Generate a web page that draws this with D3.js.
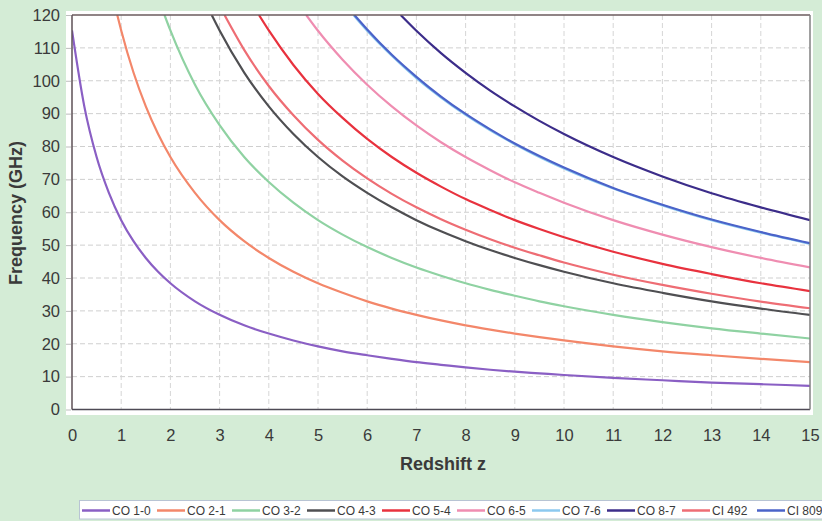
<!DOCTYPE html>
<html>
<head>
<meta charset="utf-8">
<script src="https://cdn.jsdelivr.net/npm/d3@7"></script>
<style>
  html, body { margin: 0; padding: 0; background: #d4ecd6; }
  svg { display: block; }
  text { font-family: "Liberation Sans", Arial, sans-serif; fill: #3a3a3a; }
</style>
</head>
<body>
<svg id="chart" width="822" height="521"></svg>
<script>
// ---- Data ----
const zGrid = [0,0.25,0.5,0.75,1,1.25,1.5,1.75,2,2.5,3,3.5,4,4.5,5,5.5,6,6.5,7,7.5,8,8.5,9,9.5,10,11,12,13,14,15];
const seriesNames = ["CO 1-0","CO 2-1","CO 3-2","CO 4-3","CO 5-4","CO 6-5","CO 7-6","CO 8-7","CI 492","CI 809"];
const seriesColors = ["#8a5fc4","#f3876a","#8fd2a2","#4f4f52","#e8323e","#ef8db1","#8cc9ef","#3c2d8a","#ee6d74","#4b63c9"];
// z where each curve enters the top of the plot (120 GHz); null = starts inside
const startZ = [null,0.92,1.88,2.84,3.80,4.76,5.72,6.68,3.10,5.74];
const _ = null;
const co10 = [115.3,92.2,76.8,65.9,57.6,51.2,46.1,41.9,38.4,32.9,28.8,25.6,23.1,21.0,19.2,17.7,16.5,15.4,14.4,13.6,12.8,12.1,11.5,11.0,10.5,9.6,8.9,8.2,7.7,7.2];
const co21 = [_,_,_,_,115.3,102.5,92.2,83.8,76.8,65.9,57.6,51.2,46.1,41.9,38.4,35.5,32.9,30.7,28.8,27.1,25.6,24.3,23.1,22.0,21.0,19.2,17.7,16.5,15.4,14.4];
const co32 = [_,_,_,_,_,_,_,_,115.3,98.8,86.5,76.8,69.2,62.9,57.6,53.2,49.4,46.1,43.2,40.7,38.4,36.4,34.6,32.9,31.4,28.8,26.6,24.7,23.1,21.6];
const co43 = [_,_,_,_,_,_,_,_,_,_,115.3,102.5,92.2,83.8,76.8,70.9,65.9,61.5,57.6,54.2,51.2,48.5,46.1,43.9,41.9,38.4,35.5,32.9,30.7,28.8];
const co54 = [_,_,_,_,_,_,_,_,_,_,_,_,115.3,104.8,96.0,88.7,82.3,76.8,72.0,67.8,64.0,60.7,57.6,54.9,52.4,48.0,44.3,41.2,38.4,36.0];
const co65 = [_,_,_,_,_,_,_,_,_,_,_,_,_,_,115.2,106.4,98.8,92.2,86.4,81.3,76.8,72.8,69.1,65.9,62.9,57.6,53.2,49.4,46.1,43.2];
const co76 = [_,_,_,_,_,_,_,_,_,_,_,_,_,_,_,_,115.2,107.6,100.8,94.9,89.6,84.9,80.7,76.8,73.3,67.2,62.1,57.6,53.8,50.4];
const co87 = [_,_,_,_,_,_,_,_,_,_,_,_,_,_,_,_,_,_,115.2,108.4,102.4,97.0,92.2,87.8,83.8,76.8,70.9,65.8,61.5,57.6];
const ci492 = [_,_,_,_,_,_,_,_,_,_,_,109.4,98.4,89.5,82.0,75.7,70.3,65.6,61.5,57.9,54.7,51.8,49.2,46.9,44.7,41.0,37.9,35.2,32.8,30.8];
const ci809 = [_,_,_,_,_,_,_,_,_,_,_,_,_,_,_,_,115.6,107.9,101.2,95.2,89.9,85.2,80.9,77.1,73.6,67.4,62.3,57.8,54.0,50.6];
const seriesValues = [co10,co21,co32,co43,co54,co65,co76,co87,ci492,ci809];
const xTicks = d3.range(0, 16, 1);
const yTicks = d3.range(0, 121, 10);

// ---- Layout ----
const svg = d3.select("#chart");
const L = 72, R = 810, T = 15, B = 409.5;
const x = d3.scaleLinear().domain([0, 15]).range([L, R]);
const y = d3.scaleLinear().domain([0, 120]).range([B, T]);

// white panel
svg.append("rect").attr("x", 66).attr("y", 11).attr("width", 747).attr("height", 404).attr("fill", "#ffffff");

// grid
const grid = svg.append("g");
grid.selectAll(".hg").data(yTicks.filter(d => d > 0 && d < 120)).enter().append("line")
  .attr("x1", L).attr("x2", R).attr("y1", d => y(d)).attr("y2", d => y(d))
  .attr("stroke", "#cfcfcf").attr("stroke-width", 1).attr("stroke-dasharray", "5,3");
grid.selectAll(".vg").data(xTicks.filter(d => d > 0 && d < 15)).enter().append("line")
  .attr("y1", T).attr("y2", B).attr("x1", d => x(d)).attr("x2", d => x(d))
  .attr("stroke", "#d6d6d6").attr("stroke-width", 1).attr("stroke-dasharray", "5,3");

// axes
const yAxis = d3.axisLeft(y).tickValues(yTicks).tickSize(5).tickPadding(6);
const gy = svg.append("g").attr("transform", `translate(${L - 1},0)`).call(yAxis);
gy.select(".domain").remove();
gy.selectAll(".tick line").attr("stroke", "#bdbdbd");
gy.selectAll(".tick text").style("font-size", "16.5px").attr("fill", "#3a3a3a")
  .style("font-family", '"Liberation Sans", Arial, sans-serif');

const xAxis = d3.axisBottom(x).tickValues(xTicks).tickSize(0).tickPadding(20);
const gx = svg.append("g").attr("transform", `translate(0,${B})`).call(xAxis);
gx.select(".domain").remove();
gx.selectAll(".tick text").style("font-size", "16.5px").attr("fill", "#3a3a3a")
  .style("font-family", '"Liberation Sans", Arial, sans-serif');

// clip
svg.append("clipPath").attr("id", "plotClip").append("rect")
  .attr("x", L).attr("y", T).attr("width", R - L).attr("height", B - T);

// lines
const line = d3.line().x(d => x(d[0])).y(d => y(d[1])).curve(d3.curveMonotoneX);
const lines = svg.append("g").attr("clip-path", "url(#plotClip)");
seriesValues.forEach((vals, i) => {
  const pts = [];
  if (startZ[i] !== null) pts.push([startZ[i], 120]);
  vals.forEach((v, j) => { if (v !== null) pts.push([zGrid[j], v]); });
  lines.append("path").datum(pts).attr("d", line)
    .attr("fill", "none").attr("stroke", seriesColors[i]).attr("stroke-width", 2.2)
    .attr("stroke-linejoin", "round");
});

// plot border
svg.append("line").attr("x1", L).attr("x2", R).attr("y1", T).attr("y2", T).attr("stroke", "#6b5b5e").attr("stroke-width", 1.5);
svg.append("line").attr("x1", L).attr("x2", L).attr("y1", T).attr("y2", B).attr("stroke", "#5e5056").attr("stroke-width", 1.5);
svg.append("line").attr("x1", L).attr("x2", R).attr("y1", B).attr("y2", B).attr("stroke", "#4e4a55").attr("stroke-width", 1.5);
svg.append("line").attr("x1", R).attr("x2", R).attr("y1", T).attr("y2", B).attr("stroke", "#808080").attr("stroke-width", 1.5);

// axis titles
svg.append("text").attr("x", 443).attr("y", 470).attr("text-anchor", "middle")
  .style("font-size", "18px").style("font-weight", "bold").text("Redshift z");
svg.append("text").attr("transform", "translate(22,213) rotate(-90)").attr("text-anchor", "middle")
  .style("font-size", "18px").style("font-weight", "bold").text("Frequency (GHz)");

// legend
svg.append("rect").attr("x", 79.5).attr("y", 500.5).attr("width", 760).attr("height", 18.5)
  .attr("fill", "#ffffff").attr("stroke", "#b8c4d4").attr("stroke-width", 1);
const lg = svg.append("g");
const legendX = d3.scaleLinear().domain([0, 9]).range([82, 757]);
seriesNames.forEach((name, i) => {
  const x0 = legendX(i);
  lg.append("line").attr("x1", x0).attr("x2", x0 + 28).attr("y1", 510.5).attr("y2", 510.5)
    .attr("stroke", seriesColors[i]).attr("stroke-width", 2.5);
  lg.append("text").attr("x", x0 + 30).attr("y", 515).style("font-size", "12px").text(name);
});
</script>
</body>
</html>
